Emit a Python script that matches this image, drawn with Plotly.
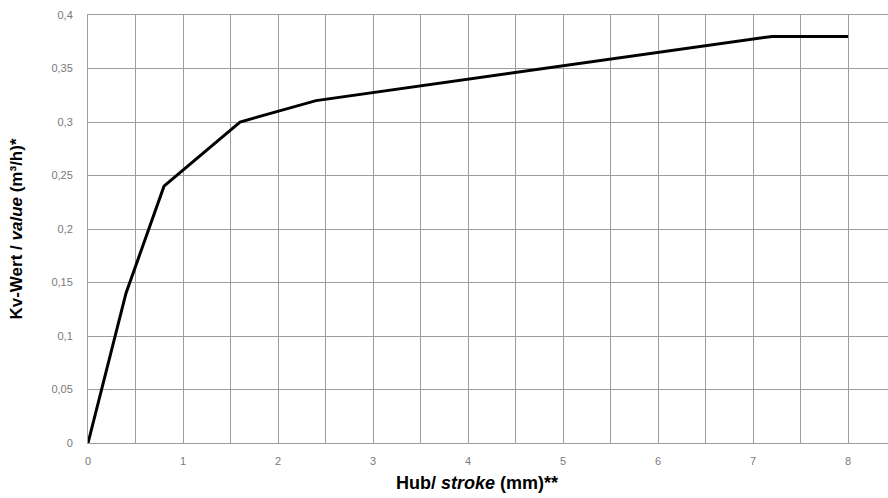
import plotly.graph_objects as go

stroke_mm = [0, 0.4, 0.8, 1.6, 2.4, 7.2, 8.0]
kv_value = [0, 0.14, 0.24, 0.30, 0.32, 0.38, 0.38]

y_ticks = [0, 0.05, 0.1, 0.15, 0.2, 0.25, 0.3, 0.35, 0.4]
y_tick_labels = ["0", "0,05", "0,1", "0,15", "0,2", "0,25", "0,3", "0,35", "0,4"]
x_ticks = [0, 1, 2, 3, 4, 5, 6, 7, 8]
x_tick_labels = [str(v) for v in x_ticks]

grid_col = "#9c9c9c"
tick_font = dict(family="Liberation Sans, Arial, sans-serif", size=11, color="#7a7a7a")
title_font = dict(family="Liberation Sans, Arial, sans-serif", size=17, color="#000000")
xtitle_font = dict(family="Liberation Sans, Arial, sans-serif", size=18, color="#000000")

fig = go.Figure()
fig.add_trace(go.Scatter(
    x=stroke_mm, y=kv_value, mode="lines",
    line=dict(color="#000000", width=3), hoverinfo="skip", showlegend=False,
))

fig.update_layout(
    width=888, height=498,
    margin=dict(l=88, r=0, t=15, b=55),
    paper_bgcolor="white", plot_bgcolor="white",
    xaxis=dict(
        range=[0, 8.42], tickvals=x_ticks, ticktext=x_tick_labels,
        showgrid=True, gridcolor=grid_col, gridwidth=1,
        minor=dict(dtick=0.5, tick0=0, showgrid=True, gridcolor=grid_col, gridwidth=1),
        showline=True, linecolor=grid_col, linewidth=1, mirror=True,
        zeroline=False, tickfont=tick_font, ticks="", ticklabelstandoff=8,
        automargin=False,
    ),
    yaxis=dict(
        range=[0, 0.4], tickvals=y_ticks, ticktext=y_tick_labels,
        showgrid=True, gridcolor=grid_col, gridwidth=1,
        showline=True, linecolor=grid_col, linewidth=1,
        zeroline=False, tickfont=tick_font, ticks="", ticklabelstandoff=12,
        title=dict(text="<b>Kv-Wert / <i>value</i> (m³/h)*</b>", font=title_font, standoff=24),
        automargin=False,
    ),
    annotations=[dict(
        text="<b>Hub/ <i>stroke</i> (mm)**</b>", font=xtitle_font,
        xref="paper", yref="paper", x=0.5, y=0, xanchor="center", yanchor="middle",
        xshift=-11, yshift=-40, showarrow=False,
    )],
)

fig.write_html("out.html")
